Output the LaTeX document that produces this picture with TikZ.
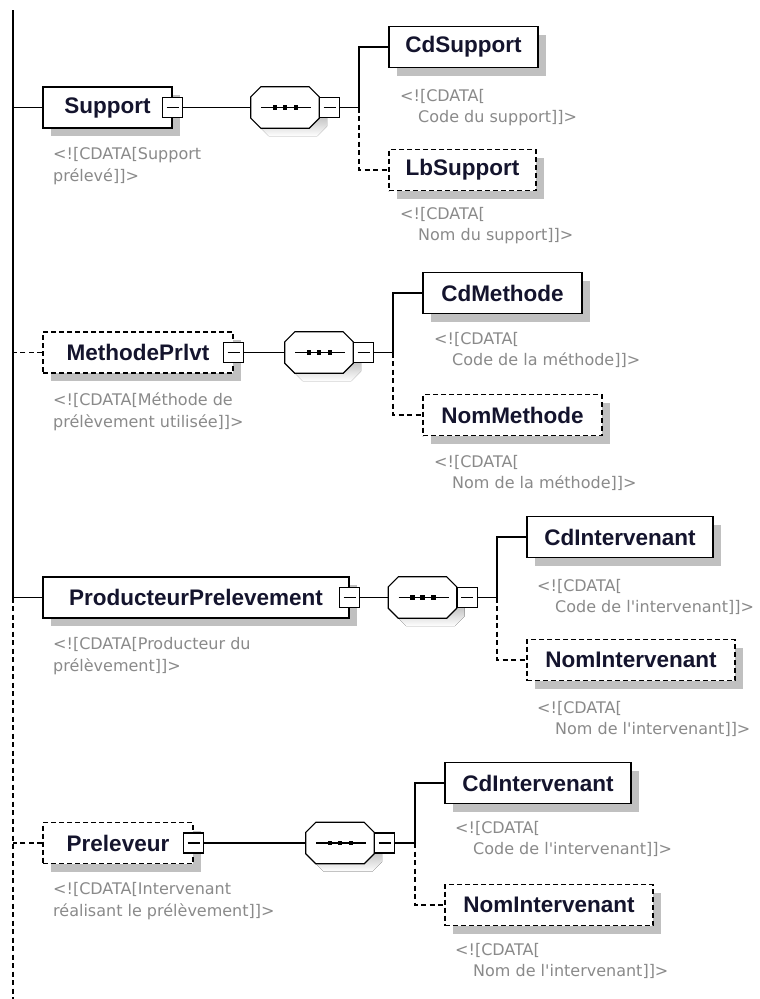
\documentclass[tikz,border=0pt]{standalone}
\usepackage{fontspec}
\setmainfont{Liberation Sans}
\newfontfamily\cdfont{DejaVu Sans}
\usetikzlibrary{shadows}
\definecolor{shade}{RGB}{192,192,192}
\definecolor{lbl}{RGB}{20,20,45}
\definecolor{cdc}{RGB}{138,138,138}
\tikzset{
 shd/.style={drop shadow={shadow xshift=8pt,shadow yshift=-8pt,fill=shade,opacity=1}},
 elem/.style={draw,line width=1.4pt,fill=white,minimum height=41pt,inner sep=0pt,
   font=\bfseries\fontsize{22.5}{27}\selectfont,text=lbl,shd},
 optelem/.style={elem,dash pattern=on 5pt off 3pt},
 seqbox/.style={minimum width=68pt,minimum height=41pt,inner sep=0pt},
 btn/.style={draw,line width=1.2pt,fill=white,minimum size=20pt,inner sep=0pt,
   path picture={\draw[black,line width=1.1pt] ([xshift=4pt]path picture bounding box.west) -- ([xshift=-4pt]path picture bounding box.east);}},
 conn/.style={line width=1.2pt},
 dconn/.style={line width=1.2pt,dash pattern=on 5pt off 3.5pt},
 cdata/.style={anchor=north west,align=left,inner sep=0pt,text=cdc,font=\cdfont\fontsize{16}{21}\selectfont},
 cdatae/.style={cdata,font=\cdfont\fontsize{16}{22}\selectfont},
}
% octagon path around a seqbox node: #1 name, #2 xshift, #3 yshift
\newcommand\octopath[3]{([xshift=#2+10pt,yshift=#3]#1.north west) -- ([xshift=#2-10pt,yshift=#3]#1.north east) -- ([xshift=#2,yshift=#3-10pt]#1.north east) -- ([xshift=#2,yshift=#3+10pt]#1.south east) -- ([xshift=#2-10pt,yshift=#3]#1.south east) -- ([xshift=#2+10pt,yshift=#3]#1.south west) -- ([xshift=#2,yshift=#3+10pt]#1.south west) -- ([xshift=#2,yshift=#3-10pt]#1.north west) -- cycle}
\newcommand\seqdraw[1]{%
  \fill[shade] \octopath{#1}{8pt}{-8pt};
  \draw[line width=1.2pt,fill=white] \octopath{#1}{0pt}{0pt};
  \draw[line width=1.2pt] ([xshift=-24pt]#1.center) -- ([xshift=26pt]#1.center);
  \fill[black] ([xshift=-12.3pt,yshift=-2.3pt]#1.center) rectangle ([xshift=-7.7pt,yshift=2.3pt]#1.center);
  \fill[black] ([xshift=-2.3pt,yshift=-2.3pt]#1.center) rectangle ([xshift=2.3pt,yshift=2.3pt]#1.center);
  \fill[black] ([xshift=8.7pt,yshift=-2.3pt]#1.center) rectangle ([xshift=13.3pt,yshift=2.3pt]#1.center);
}
\begin{document}
\begin{tikzpicture}[x=1pt,y=-1pt]
\useasboundingbox (0,0) rectangle (760,999);
\fill[white] (0,0) rectangle (760,999);

% ---------- Support ----------
\node[elem,minimum width=129pt] (support) at (107.5,107.5) {Support};
\node[btn] (supportB) at (support.east) {};
\node[seqbox] (seq1) at (285,107.5) {};
\seqdraw{seq1}
\node[btn] (seq1B) at ([xshift=10.5pt]seq1.east) {};
\coordinate (j1) at (359,107.5);
\node[elem,minimum width=149pt] (cdsupport) at (463.5,47) {CdSupport};
\node[optelem,minimum width=147pt] (lbsupport) at (462.5,170) {LbSupport};
\node[cdatae] (supportD) at (53,147) {<![CDATA[Support\\prélevé]]>};
\node[cdata] (cdsupportD) at (400,89) {<![CDATA[\\\hspace*{18pt}Code du support]]>};
\node[cdata] (lbsupportD) at (400,207) {<![CDATA[\\\hspace*{18pt}Nom du support]]>};

% ---------- MethodePrlvt ----------
\node[optelem,minimum width=190pt] (methode) at (138,352.5) {MethodePrlvt};
\node[btn] (methodeB) at (methode.east) {};
\node[seqbox] (seq2) at (319,352.5) {};
\seqdraw{seq2}
\node[btn] (seq2B) at ([xshift=10.5pt]seq2.east) {};
\coordinate (j2) at (393,352.5);
\node[elem,minimum width=159pt] (cdmethode) at (502.5,293) {CdMethode};
\node[optelem,minimum width=179pt] (nommethode) at (512.5,415) {NomMethode};
\node[cdatae] (methodeD) at (53,392) {<![CDATA[Méthode de\\prélèvement utilisée]]>};
\node[cdata] (cdmethodeD) at (434,332) {<![CDATA[\\\hspace*{18pt}Code de la méthode]]>};
\node[cdata] (nommethodeD) at (434,455) {<![CDATA[\\\hspace*{18pt}Nom de la méthode]]>};

% ---------- ProducteurPrelevement ----------
\node[elem,minimum width=306pt] (prod) at (196,597.5) {ProducteurPrelevement};
\node[btn] (prodB) at (prod.east) {};
\node[seqbox] (seq3) at (422.5,597.5) {};
\seqdraw{seq3}
\node[btn] (seq3B) at ([xshift=10.5pt]seq3.east) {};
\coordinate (j3) at (497,597.5);
\node[elem,minimum width=186pt] (cdint) at (620,537) {CdIntervenant};
\node[optelem,minimum width=208pt] (nomint) at (631,660) {NomIntervenant};
\node[cdatae] (prodD) at (53,637) {<![CDATA[Producteur du\\prélèvement]]>};
\node[cdata] (cdintD) at (537,579) {<![CDATA[\\\hspace*{18pt}Code de l\textquotesingle intervenant]]>};
\node[cdata] (nomintD) at (537,701) {<![CDATA[\\\hspace*{18pt}Nom de l\textquotesingle intervenant]]>};

% ---------- Preleveur ----------
\node[optelem,minimum width=150pt] (prel) at (118,843) {Preleveur};
\node[btn] (prelB) at (prel.east) {};
\node[seqbox] (seq4) at (340,843) {};
\seqdraw{seq4}
\node[btn] (seq4B) at ([xshift=10.5pt]seq4.east) {};
\coordinate (j4) at (415,843);
\node[elem,minimum width=186pt] (cdint2) at (538,783) {CdIntervenant};
\node[optelem,minimum width=208pt] (nomint2) at (549,905) {NomIntervenant};
\node[cdatae] (prelD) at (53,882) {<![CDATA[Intervenant\\réalisant le prélèvement]]>};
\node[cdata] (cdint2D) at (455,821) {<![CDATA[\\\hspace*{18pt}Code de l\textquotesingle intervenant]]>};
\node[cdata] (nomint2D) at (455,943) {<![CDATA[\\\hspace*{18pt}Nom de l\textquotesingle intervenant]]>};

% ---------- main spine ----------
\coordinate (vtop) at (13,10);
\coordinate (vbot) at (13,999);
\coordinate (vmid) at (vtop |- prod.west);
\draw[conn] (vtop) -- (vmid);
\draw[dconn] (vmid) -- (vbot);
\draw[conn] (support.west) -- (support.west -| vtop);
\draw[dconn] (methode.west) -- (methode.west -| vtop);
\draw[conn] (prod.west) -- (vmid);
\draw[dconn] (prel.west) -- (prel.west -| vtop);

% ---------- connectors ----------
\draw[conn] (supportB.east) -- (seq1.west);
\draw[conn] (seq1B.east) -- (j1);
\draw[conn] (j1) |- (cdsupport.west);
\draw[dconn] (j1) |- (lbsupport.west);

\draw[conn] (methodeB.east) -- (seq2.west);
\draw[conn] (seq2B.east) -- (j2);
\draw[conn] (j2) |- (cdmethode.west);
\draw[dconn] (j2) |- (nommethode.west);

\draw[conn] (prodB.east) -- (seq3.west);
\draw[conn] (seq3B.east) -- (j3);
\draw[conn] (j3) |- (cdint.west);
\draw[dconn] (j3) |- (nomint.west);

\draw[conn] (prelB.east) -- (seq4.west);
\draw[conn] (seq4B.east) -- (j4);
\draw[conn] (j4) |- (cdint2.west);
\draw[dconn] (j4) |- (nomint2.west);
\end{tikzpicture}
\end{document}
